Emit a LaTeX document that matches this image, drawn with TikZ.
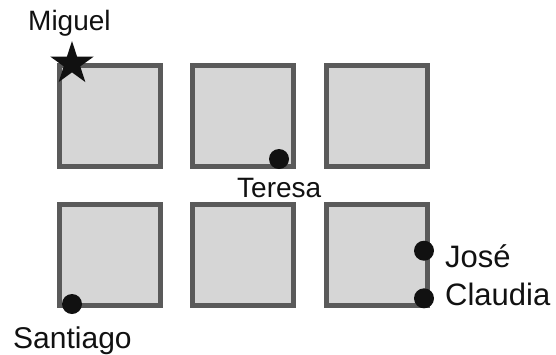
\documentclass[tikz,border=0pt]{standalone}
\usepackage{fontspec}
\setmainfont{Liberation Sans}
\usetikzlibrary{shapes.geometric}
\definecolor{cellborder}{HTML}{5A5A5A}
\definecolor{cellfill}{HTML}{D6D6D6}
\definecolor{ink}{HTML}{111111}
\begin{document}
\begin{tikzpicture}[x=1pt,y=-1pt,
  cell/.style={draw=cellborder, fill=cellfill, line width=5pt, minimum size=101pt, inner sep=0pt, shape=rectangle},
  marker/.style={circle, fill=ink, minimum size=20pt, inner sep=0pt},
  lbl/.style={font=\fontsize{28}{28}\selectfont, inner sep=0pt, anchor=base west, text=ink},
  biglbl/.style={lbl, font=\fontsize{31}{31}\selectfont}]
\useasboundingbox (0,0) rectangle (556,354);
% grid of cells
\node[cell] (c11) at (109.5,115.5) {};
\node[cell] (c12) at (243,115.5) {};
\node[cell] (c13) at (377,115.5) {};
\node[cell] (c21) at (109.5,255) {};
\node[cell] (c22) at (243,255) {};
\node[cell] (c23) at (377,255) {};
% markers
\node[star, star points=5, star point ratio=2.618, minimum size=45.4pt, inner sep=0pt, fill=ink] (miguelstar) at (72,63.7) {};
\node[marker] (teresadot) at (279,159) {};
\node[marker] (santiagodot) at (72,304) {};
\node[marker] (josedot) at (424,250.7) {};
\node[marker] (claudiadot) at (424,298.3) {};
% labels
\node[lbl] (miguel) at (28,30) {Miguel};
\node[lbl] (teresa) at (237,197) {Teresa};
\node[lbl, font=\fontsize{30}{30}\selectfont] (santiago) at (13,348) {Santiago};
\node[biglbl] (jose) at (445,267) {José};
\node[biglbl] (claudia) at (445,305) {Claudia};
\end{tikzpicture}
\end{document}
